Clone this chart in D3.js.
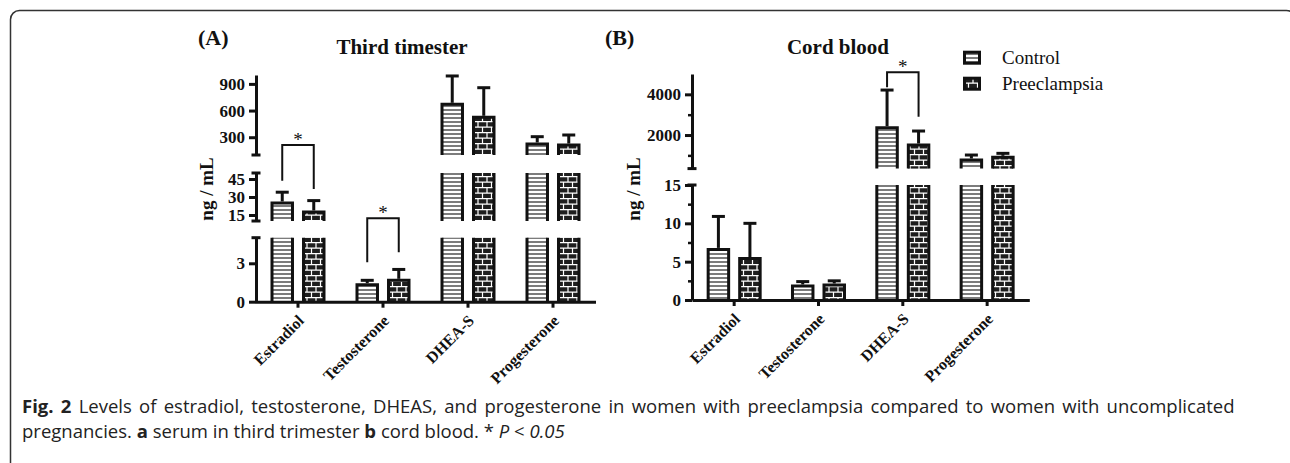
<!DOCTYPE html>
<meta charset="utf-8">
<script src="https://d3js.org/d3.v7.min.js"></script>
<style>
  body { margin: 0; background: #fff; }
  .chart text { font-family: "Liberation Serif", "Times New Roman", serif; fill: #111; }
  .caption { font-family: "Open Sans", sans-serif; fill: #222; }
</style>
<body>
<div id="fig"></div>
<script>
// categories and groups
var categories = ["Estradiol", "Testosterone", "DHEA-S", "Progesterone"];
var series = ["Control", "Preeclampsia"];

// (A) serum, third trimester (ng/mL): mean and upper SD
var thirdControl   = [25, 1.33, 670, 224];
var thirdControlSD = [9, 0.34, 319, 82];
var thirdPre       = [17.5, 1.67, 524, 212];
var thirdPreSD     = [9.5, 0.85, 333, 113];

// (B) cord blood (ng/mL)
var cordControl   = [6.6, 1.83, 2359, 772];
var cordControlSD = [4.3, 0.57, 1852, 245];
var cordPre       = [5.4, 1.96, 1509, 904];
var cordPreSD     = [4.6, 0.54, 688, 196];

// broken y axes: segment domains, tick labels, minor ticks
var thirdBreaks = [[0, 5], [10, 50], [100, 1000]];
var thirdTicks  = [[0, 3], [15, 30, 45], [300, 600, 900]];
var thirdMinor  = [[], [], []];
var cordBreaks  = [[0, 15], [350, 5000]];
var cordTicks   = [[0, 5, 10, 15], [2000, 4000]];
var cordMinor   = [[2.5, 7.5, 12.5], [1000, 3000]];

// significance brackets (values on the broken axis)
var thirdSig = [
  {cat: "Estradiol", top: 212, left: 43.6, right: 36.7},
  {cat: "Testosterone", top: 12.25, left: 3.08, right: 3.87}
];
var cordSig = [
  {cat: "DHEA-S", top: 5081, left: 4344, right: 2899}
];

var W = 1290, H = 463;
var svg = d3.select("#fig").append("svg")
  .attr("width", W).attr("height", H);

// outer frame
svg.append("rect")
  .attr("x", 10.5).attr("y", 10.5)
  .attr("width", 1285).attr("height", 520)
  .attr("rx", 9)
  .attr("fill", "none").attr("stroke", "#333").attr("stroke-width", 1.5);

var defs = svg.append("defs");
var ps = defs.append("pattern").attr("id", "stripes")
  .attr("patternUnits", "userSpaceOnUse").attr("width", 8).attr("height", 4);
ps.append("rect").attr("width", 8).attr("height", 4).attr("fill", "#fff");
ps.append("line").attr("x1", 0).attr("x2", 8).attr("y1", 2).attr("y2", 2)
  .attr("stroke", "#444").attr("stroke-width", 1.4);

var pb = defs.append("pattern").attr("id", "bricks")
  .attr("patternUnits", "userSpaceOnUse").attr("width", 9).attr("height", 11);
pb.append("rect").attr("width", 9).attr("height", 11).attr("fill", "#1e1e1e");
pb.append("path").attr("d", "M0,0.6H9M0,6.1H9M1,0.6V6.1M5.5,6.1V11")
  .attr("stroke", "#fff").attr("stroke-width", 1.2).attr("fill", "none");

var fills = ["url(#stripes)", "url(#bricks)"];

var chart = svg.append("g").attr("class", "chart");

function drawPanel(cfg) {
  var g = chart.append("g");
  var segs = cfg.breaks.map(function(d, i) {
    return d3.scaleLinear().domain(d).range(cfg.segRange[i]);
  });
  function y(v) {
    for (var i = 0; i < segs.length - 1; i++) if (v <= cfg.breaks[i][1]) return segs[i](v);
    return segs[segs.length - 1](v);
  }
  var x = d3.scaleBand().domain(categories).range(cfg.xRange);
  var x1 = d3.scaleBand().domain(series).range([-26, 26]).paddingInner(0.35);
  function cx(c) { return x(c) + x.bandwidth() / 2; }
  var bw = x1.bandwidth();

  // bars, piece by piece on each axis segment
  series.forEach(function(s, si) {
    categories.forEach(function(c, ci) {
      var v = cfg.values[si][ci];
      var bx = cx(c) + x1(s);
      cfg.breaks.forEach(function(b, k) {
        if (k > 0 && v <= b[0]) return;
        var top = Math.min(v, b[1]);
        var y0 = segs[k](b[0]), y1 = segs[k](top);
        g.append("rect")
          .attr("x", bx).attr("y", y1)
          .attr("width", bw).attr("height", y0 - y1)
          .attr("fill", fills[si]);
        var d = "M" + bx + "," + y0 + "V" + y1 +
          (v <= b[1] ? "H" + (bx + bw) : "M" + (bx + bw) + "," + y1) + "V" + y0;
        g.append("path").attr("d", d)
          .attr("fill", "none").attr("stroke", "#111").attr("stroke-width", 3);
      });
      // upper error bar
      var sd = cfg.sds[si][ci], mx = bx + bw / 2;
      var yt = y(v + sd);
      g.append("line").attr("x1", mx).attr("x2", mx)
        .attr("y1", y(v) - 1.5).attr("y2", yt)
        .attr("stroke", "#111").attr("stroke-width", 3);
      g.append("line").attr("x1", mx - 6.5).attr("x2", mx + 6.5)
        .attr("y1", yt).attr("y2", yt)
        .attr("stroke", "#111").attr("stroke-width", 3);
    });
  });

  // y axis segments
  cfg.breaks.forEach(function(b, k) {
    var ax = g.append("g")
      .attr("transform", "translate(" + cfg.axisX + ",0)")
      .call(d3.axisLeft(segs[k]).tickValues(cfg.ticks[k])
        .tickFormat(d3.format("d"))
        .tickSize(7).tickSizeOuter(0).tickPadding(4));
    ax.attr("font-family", null).attr("font-size", 17).attr("font-weight", "bold");
    ax.selectAll("path, line").attr("stroke", "#111").attr("stroke-width", 3);
    if (cfg.minor[k].length) {
      var mn = g.append("g")
        .attr("transform", "translate(" + cfg.axisX + ",0)")
        .call(d3.axisLeft(segs[k]).tickValues(cfg.minor[k])
          .tickSize(4).tickSizeOuter(0).tickFormat(""));
      mn.select(".domain").remove();
      mn.selectAll("line").attr("stroke", "#111").attr("stroke-width", 2.5);
    }
    var caps = [];
    if (k < cfg.breaks.length - 1) caps.push(b[1]);
    if (k > 0) caps.push(b[0]);
    caps.forEach(function(cv) {
      g.append("line")
        .attr("x1", cfg.axisX - 4.5).attr("x2", cfg.axisX + 4.5)
        .attr("y1", segs[k](cv)).attr("y2", segs[k](cv))
        .attr("stroke", "#111").attr("stroke-width", 3);
    });
  });

  // x axis
  var xa = g.append("g")
    .attr("transform", "translate(0," + cfg.segRange[0][0] + ")")
    .call(d3.axisBottom(x).tickSize(6).tickSizeOuter(0));
  xa.attr("font-family", null).attr("font-size", 16).attr("font-weight", "bold");
  xa.selectAll("path, line").attr("stroke", "#111").attr("stroke-width", 3);
  xa.selectAll("text")
    .attr("y", 0).attr("dy", 0)
    .attr("transform", "translate(7,20) rotate(-45)")
    .style("text-anchor", "end");

  // significance brackets
  cfg.sig.forEach(function(s) {
    var xl = cx(s.cat) + x1("Control") + bw / 2;
    var xr = cx(s.cat) + x1("Preeclampsia") + bw / 2;
    g.append("path")
      .attr("d", "M" + xl + "," + y(s.left) + "V" + y(s.top) + "H" + xr + "V" + y(s.right))
      .attr("fill", "none").attr("stroke", "#111").attr("stroke-width", 2);
    g.append("text")
      .attr("x", (xl + xr) / 2).attr("y", y(s.top) + 1)
      .attr("text-anchor", "middle").attr("font-size", 19)
      .text("*");
  });

  // labels
  g.append("text")
    .attr("transform", "translate(" + cfg.yLabelX + ",189) rotate(-90)")
    .attr("text-anchor", "middle").attr("font-size", 19).attr("font-weight", "bold")
    .text("ng / mL");
  g.append("text")
    .attr("x", cfg.tagX).attr("y", 45)
    .attr("font-size", 22).attr("font-weight", "bold")
    .text(cfg.tag);
  g.append("text")
    .attr("x", cfg.titleX).attr("y", 54)
    .attr("text-anchor", "middle").attr("font-size", 21).attr("font-weight", "bold")
    .text(cfg.title);
}

drawPanel({
  tag: "(A)", tagX: 198, title: "Third timester", titleX: 402,
  breaks: thirdBreaks, ticks: thirdTicks, minor: thirdMinor,
  segRange: [[301.7, 237.7], [221, 173], [155, 75]],
  axisX: 256, xRange: [255.5, 595.5], yLabelX: 213,
  values: [thirdControl, thirdPre], sds: [thirdControlSD, thirdPreSD],
  sig: thirdSig
});

drawPanel({
  tag: "(B)", tagX: 605, title: "Cord blood", titleX: 838,
  breaks: cordBreaks, ticks: cordTicks, minor: cordMinor,
  segRange: [[300, 185], [168.6, 74]],
  axisX: 692, xRange: [692, 1029.3], yLabelX: 640,
  values: [cordControl, cordPre], sds: [cordControlSD, cordPreSD],
  sig: cordSig
});

// legend
var lg = chart.append("g");
series.forEach(function(s, i) {
  lg.append("rect")
    .attr("x", 964.5).attr("y", 52.2 + i * 26)
    .attr("width", 15).attr("height", 11)
    .attr("fill", fills[i]).attr("stroke", "#111").attr("stroke-width", 3);
  lg.append("text")
    .attr("x", 1002).attr("y", 64 + i * 26)
    .attr("font-size", 19)
    .text(s);
});

// caption: first line justified to the full width
var capSize = 18.5;
var line1 = " Levels of estradiol, testosterone, DHEAS, and progesterone in women with preeclampsia compared to women with uncomplicated";
var cap1 = svg.append("text").attr("class", "caption")
  .attr("x", 22).attr("y", 413).attr("font-size", capSize);
cap1.append("tspan").attr("font-weight", "bold").text("Fig. 2");
cap1.append("tspan").text(line1);
var w1 = cap1.node().getComputedTextLength();
var gaps = line1.split(" ").length - 1;
if (w1 < 1210) cap1.attr("word-spacing", (1210 - w1) / gaps);
else cap1.attr("textLength", 1210).attr("lengthAdjust", "spacingAndGlyphs");

var cap2 = svg.append("text").attr("class", "caption")
  .attr("x", 22).attr("y", 438).attr("font-size", capSize);
cap2.append("tspan").text("pregnancies. ");
cap2.append("tspan").attr("font-weight", "bold").text("a");
cap2.append("tspan").text(" serum in third trimester ");
cap2.append("tspan").attr("font-weight", "bold").text("b");
cap2.append("tspan").text(" cord blood. * ");
cap2.append("tspan").attr("font-style", "italic").text("P");
cap2.append("tspan").text(" <  ");
cap2.append("tspan").attr("font-style", "italic").text("0.05");
</script>
</body>
